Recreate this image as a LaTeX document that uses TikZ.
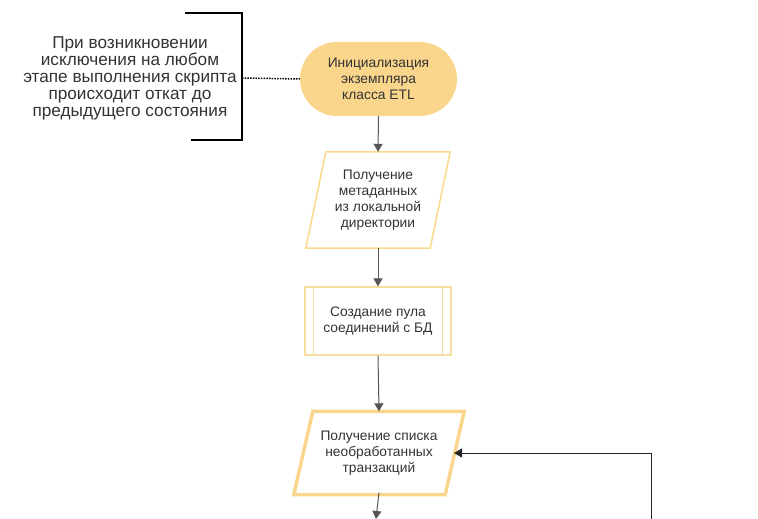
\documentclass[tikz,border=0pt]{standalone}
\usepackage{fontspec}
\setmainfont{Liberation Sans}
\usetikzlibrary{arrows.meta,calc}
\definecolor{txt}{HTML}{333333}
\definecolor{termfill}{HTML}{FAD58C}
\definecolor{paraline}{HTML}{FAD98A}
\definecolor{boxline}{HTML}{F7DE9E}
\definecolor{arr}{HTML}{555555}
\tikzset{
  lbl/.style={text=txt,font=\fontsize{13.8}{16.2}\selectfont,align=center,inner sep=0pt},
  flow/.style={draw=arr,line width=1pt,-{Triangle[width=9pt,length=8pt]}},
  back/.style={draw=black!85,line width=1pt,-{Triangle[width=9pt,length=8pt]}},
}
\begin{document}
\begin{tikzpicture}[x=1pt,y=-1pt]
\useasboundingbox (0,0) rectangle (758,519);
% annotation
\node[text=txt,font=\fontsize{17.2}{17}\selectfont,align=center,inner sep=0pt] (note) at (130,78)
  {При возникновении\\исключения на любом\\этапе выполнения скрипта\\происходит откат до\\предыдущего состояния};
\draw[line width=2pt,black] (185,13) -- (242,13) -- (242,140) -- (191,140);
\coordinate (br) at (242,78);
% terminator
\node[fill=termfill,rounded corners=37pt,minimum width=157pt,minimum height=74pt,inner sep=0pt] (init) at (378.5,79) {};
\node[lbl] at (init.center) {Инициализация\\экземпляра\\класса ETL};
\draw[black,line width=1.5pt,dash pattern=on 1.5pt off 1.2pt] (br) -- (init.west);
% parallelogram 1
\node[minimum width=144pt,minimum height=96pt,inner sep=0pt] (meta) at (378,200) {};
\draw[paraline,line width=1.5pt] ($(meta.north west)+(20,0)$) -- (meta.north east) -- ($(meta.south east)-(20,0)$) -- (meta.south west) -- cycle;
\node[lbl] at (meta.center) {Получение\\метаданных\\из локальной\\директории};
% predefined process
\node[draw=boxline,line width=1.2pt,minimum width=146pt,minimum height=68pt,inner sep=0pt] (pool) at (378,321) {};
\draw[boxline,line width=1.2pt] ($(pool.north west)+(9,0)$) -- ($(pool.south west)+(9,0)$);
\draw[boxline,line width=1.2pt] ($(pool.north east)-(9,0)$) -- ($(pool.south east)-(9,0)$);
\node[lbl] at (pool.center) {Создание пула\\соединений с БД};
% parallelogram 2
\node[minimum width=170pt,minimum height=83pt,inner sep=0pt] (tx) at (379,453) {};
\draw[termfill,line width=3.5pt] ($(tx.north west)+(19,0)$) -- (tx.north east) -- ($(tx.south east)-(19,0)$) -- (tx.south west) -- cycle;
\node[lbl] at (tx.center) {Получение списка\\необработанных\\транзакций};
\coordinate (txin) at (454,453);
\coordinate (down) at (376,519);
\coordinate (loop) at (651,525);
% connectors
\draw[flow] (init.south) -- (meta.north);
\draw[flow] (meta.south) -- (pool.north);
\draw[flow] (pool.south) -- (tx.north);
\draw[flow] ([yshift=2pt]tx.south) -- (down);
\draw[back] (loop) |- (txin);
\end{tikzpicture}
\end{document}
